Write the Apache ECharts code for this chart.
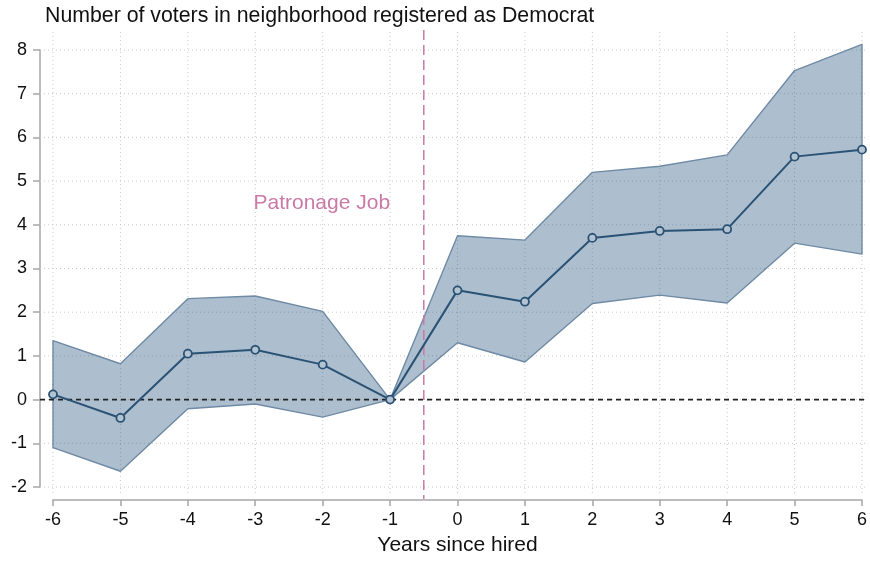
<!DOCTYPE html>
<html>
<head>
<meta charset="utf-8">
<script src="https://cdn.jsdelivr.net/npm/echarts@6/dist/echarts.min.js"></script>
<style>
  html, body { margin: 0; padding: 0; background: #fff; }
  #chart { width: 870px; height: 562px; }
</style>
</head>
<body>
<div id="chart"></div>
<script>
// event-study estimates
const years = [-6, -5, -4, -3, -2, -1, 0, 1, 2, 3, 4, 5, 6];
const estimate = [0.12, -0.42, 1.05, 1.14, 0.80, 0, 2.50, 2.24, 3.70, 3.86, 3.90, 5.56, 5.72];
const ciUpper = [1.35, 0.82, 2.31, 2.37, 2.02, 0, 3.75, 3.65, 5.20, 5.34, 5.60, 7.53, 8.13];
const ciLower = [-1.10, -1.64, -0.21, -0.10, -0.40, 0, 1.30, 0.86, 2.20, 2.39, 2.21, 3.58, 3.33];
const yTicks = [-2, -1, 0, 1, 2, 3, 4, 5, 6, 7, 8];
const eventYear = -0.5;
const eventLabel = 'Patronage Job';
const eventLabelAt = [-1, 4.5];

const FONT = '"Liberation Sans", Arial, Helvetica, sans-serif';
const chart = echarts.init(document.getElementById('chart'));

const pairs = arr => years.map((x, i) => [x, arr[i]]);

// gridlines, a bit wider than the tick range like Stata does
function gridItem(params, api) {
  const tl = api.coord([years[0], yTicks[yTicks.length - 1]]);
  const br = api.coord([years[years.length - 1], yTicks[0]]);
  const left = tl[0] - 13, right = br[0] + 3, top = tl[1] - 18, bottom = br[1] + 7;
  const dot = { stroke: '#c9c9c9', lineWidth: 1, lineDash: [1, 3] };
  const kids = [];
  years.forEach(x => {
    const p = api.coord([x, 0]);
    kids.push({ type: 'line', shape: { x1: p[0], y1: top, x2: p[0], y2: bottom }, style: dot });
  });
  yTicks.forEach(y => {
    const p = api.coord([0, y]);
    kids.push({ type: 'line', shape: { x1: left, y1: p[1], x2: right, y2: p[1] }, style: dot });
  });
  return { type: 'group', children: kids };
}

// confidence band: upper edge forward, lower edge back
function bandItem(params, api) {
  const pts = years.map((x, i) => api.coord([x, ciUpper[i]]))
    .concat(years.map((x, i) => api.coord([x, ciLower[i]])).reverse());
  return {
    type: 'polygon', shape: { points: pts },
    style: { fill: 'rgba(40,85,125,0.38)', stroke: '#6f8aa5', lineWidth: 1.4, lineJoin: 'round' }
  };
}

function refItem(params, api) {
  const tl = api.coord([years[0], yTicks[yTicks.length - 1]]);
  const br = api.coord([years[years.length - 1], yTicks[0]]);
  const zero = api.coord([0, 0]);
  const ev = api.coord([eventYear, 0]);
  const lab = api.coord(eventLabelAt);
  return {
    type: 'group',
    children: [
      { type: 'line', shape: { x1: tl[0] - 13, y1: zero[1], x2: br[0] + 3, y2: zero[1] },
        style: { stroke: '#222', lineWidth: 1.8, lineDash: [5, 4] } },
      { type: 'line', shape: { x1: ev[0], y1: tl[1] - 20, x2: ev[0], y2: br[1] + 12 },
        style: { stroke: '#c97aa6', lineWidth: 1.5, lineDash: [10, 5] } },
      { type: 'text', x: lab[0], y: lab[1],
        style: { text: eventLabel, fill: '#c97aa6', font: '21px ' + FONT, align: 'right', verticalAlign: 'middle' } }
    ]
  };
}

const option = {
  animation: false,
  backgroundColor: '#fff',
  title: {
    text: 'Number of voters in neighborhood registered as Democrat',
    left: 40, top: 1,
    textStyle: { fontFamily: FONT, fontSize: 21.3, fontWeight: 'normal', color: '#111' }
  },
  grid: { left: 53, right: 5, top: 50, bottom: 75, containLabel: false },
  xAxis: {
    type: 'value', min: -6, max: 6, interval: 1, offset: 13,
    name: 'Years since hired', nameLocation: 'middle', nameGap: 35,
    nameTextStyle: { fontFamily: FONT, fontSize: 21, color: '#111' },
    axisLine: { show: true, onZero: false, lineStyle: { color: '#a6a6a6', width: 1.5 } },
    axisTick: { show: true, length: 6, lineStyle: { color: '#a6a6a6', width: 1.5 } },
    axisLabel: { fontFamily: FONT, fontSize: 18, color: '#111', margin: 11 },
    splitLine: { show: false }
  },
  yAxis: {
    type: 'value', min: -2, max: 8, interval: 1, offset: 13,
    axisLine: { show: true, onZero: false, lineStyle: { color: '#a6a6a6', width: 1.5 } },
    axisTick: { show: true, length: 7, lineStyle: { color: '#a6a6a6', width: 1.5 } },
    axisLabel: { fontFamily: FONT, fontSize: 18, color: '#111', margin: 13 },
    splitLine: { show: false }
  },
  series: [
    { type: 'custom', name: 'grid', z: 1, clip: false, silent: true,
      data: [[0, 0]], renderItem: gridItem },
    { type: 'custom', name: 'ci', z: 2, clip: false, silent: true,
      data: [[0, 0]], renderItem: bandItem },
    { type: 'custom', name: 'ref', z: 3, clip: false, silent: true,
      data: [[0, 0]], renderItem: refItem },
    { type: 'line', name: 'estimate', z: 4, data: pairs(estimate),
      symbol: 'circle', symbolSize: 8, showAllSymbol: true,
      lineStyle: { color: '#2a5275', width: 2 },
      itemStyle: { color: '#b4c3d1', borderColor: '#2a5275', borderWidth: 1.8 } }
  ]
};
chart.setOption(option);
</script>
</body>
</html>
